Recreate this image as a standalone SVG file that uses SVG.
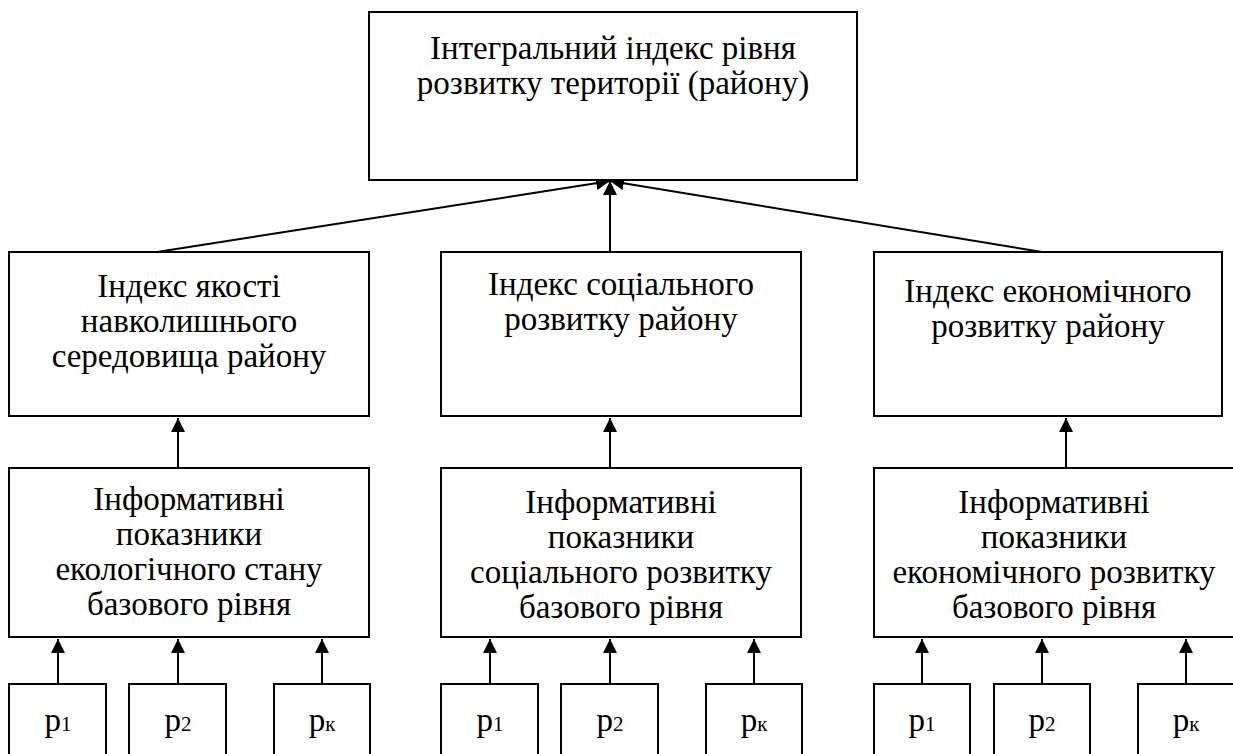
<svg xmlns="http://www.w3.org/2000/svg" width="1233" height="754" viewBox="0 0 1233 754">
<defs>
<marker id="ah" viewBox="0 0 14 14" refX="14" refY="7" markerWidth="14" markerHeight="14" markerUnits="userSpaceOnUse" orient="auto">
<path d="M0,0 L14,7 L0,14 Z" fill="#000"/>
</marker>
<style>
.box{fill:#fff;stroke:#000;stroke-width:2}
.t{font-family:'Liberation Serif','Times New Roman',serif;font-size:33px;fill:#000;text-anchor:middle}
.sub{font-size:21px}
.c{stroke:#000;stroke-width:2;fill:none;marker-end:url(#ah)}
</style>
</defs>
<rect width="1233" height="754" fill="#fff"/>
<g id="connectors">
<line class="c" x1="157" y1="252" x2="610" y2="181"/>
<line class="c" x1="610" y1="252" x2="610" y2="181"/>
<line class="c" x1="1042" y1="252" x2="610" y2="181"/>
<line class="c" x1="178" y1="468" x2="178" y2="418"/>
<line class="c" x1="610" y1="468" x2="610" y2="418"/>
<line class="c" x1="1066" y1="468" x2="1066" y2="418"/>
<line class="c" x1="58" y1="684" x2="58" y2="639"/>
<line class="c" x1="178" y1="684" x2="178" y2="639"/>
<line class="c" x1="322" y1="684" x2="322" y2="639"/>
<line class="c" x1="490" y1="684" x2="490" y2="639"/>
<line class="c" x1="610" y1="684" x2="610" y2="639"/>
<line class="c" x1="754" y1="684" x2="754" y2="639"/>
<line class="c" x1="922" y1="684" x2="922" y2="639"/>
<line class="c" x1="1042" y1="684" x2="1042" y2="639"/>
<line class="c" x1="1186" y1="684" x2="1186" y2="639"/>
</g>
<g id="top">
<rect class="box" x="369" y="12" width="488" height="168"/>
<text class="t" x="613" y="59">Інтегральний індекс рівня</text>
<text class="t" x="613" y="94">розвитку території (району)</text>
</g>
<g id="mid-left">
<rect class="box" x="9" y="252" width="360" height="164"/>
<text class="t" x="189" y="297">Індекс якості</text>
<text class="t" x="189" y="332">навколишнього</text>
<text class="t" x="189" y="367">середовища району</text>
</g>
<g id="mid-center">
<rect class="box" x="441" y="252" width="360" height="164"/>
<text class="t" x="621" y="295">Індекс соціального</text>
<text class="t" x="621" y="330">розвитку району</text>
</g>
<g id="mid-right">
<rect class="box" x="874" y="252" width="348" height="164"/>
<text class="t" x="1048" y="302">Індекс економічного</text>
<text class="t" x="1048" y="337">розвитку району</text>
</g>
<g id="info-left">
<rect class="box" x="9" y="468" width="360" height="169"/>
<text class="t" x="189" y="510">Інформативні</text>
<text class="t" x="189" y="545">показники</text>
<text class="t" x="189" y="580">екологічного стану</text>
<text class="t" x="189" y="615">базового рівня</text>
</g>
<g id="info-center">
<rect class="box" x="441" y="468" width="360" height="169"/>
<text class="t" x="621" y="513">Інформативні</text>
<text class="t" x="621" y="548">показники</text>
<text class="t" x="621" y="583">соціального розвитку</text>
<text class="t" x="621" y="618">базового рівня</text>
</g>
<g id="info-right">
<rect class="box" x="874" y="468" width="362" height="169"/>
<text class="t" x="1054" y="513">Інформативні</text>
<text class="t" x="1054" y="548">показники</text>
<text class="t" x="1054" y="583">економічного розвитку</text>
<text class="t" x="1054" y="618">базового рівня</text>
</g>
<g id="p-left-1"><rect class="box" x="9" y="684" width="97" height="80"/><text class="t" x="58" y="731">p<tspan class="sub">1</tspan></text></g>
<g id="p-left-2"><rect class="box" x="129" y="684" width="97" height="80"/><text class="t" x="178" y="731">p<tspan class="sub">2</tspan></text></g>
<g id="p-left-k"><rect class="box" x="274" y="684" width="96" height="80"/><text class="t" x="322" y="731">p<tspan class="sub">к</tspan></text></g>
<g id="p-center-1"><rect class="box" x="441" y="684" width="97" height="80"/><text class="t" x="490" y="731">p<tspan class="sub">1</tspan></text></g>
<g id="p-center-2"><rect class="box" x="561" y="684" width="97" height="80"/><text class="t" x="610" y="731">p<tspan class="sub">2</tspan></text></g>
<g id="p-center-k"><rect class="box" x="706" y="684" width="96" height="80"/><text class="t" x="754" y="731">p<tspan class="sub">к</tspan></text></g>
<g id="p-right-1"><rect class="box" x="874" y="684" width="96" height="80"/><text class="t" x="922" y="731">p<tspan class="sub">1</tspan></text></g>
<g id="p-right-2"><rect class="box" x="994" y="684" width="96" height="80"/><text class="t" x="1042" y="731">p<tspan class="sub">2</tspan></text></g>
<g id="p-right-k"><rect class="box" x="1138" y="684" width="98" height="80"/><text class="t" x="1186" y="731">p<tspan class="sub">к</tspan></text></g>
</svg>
